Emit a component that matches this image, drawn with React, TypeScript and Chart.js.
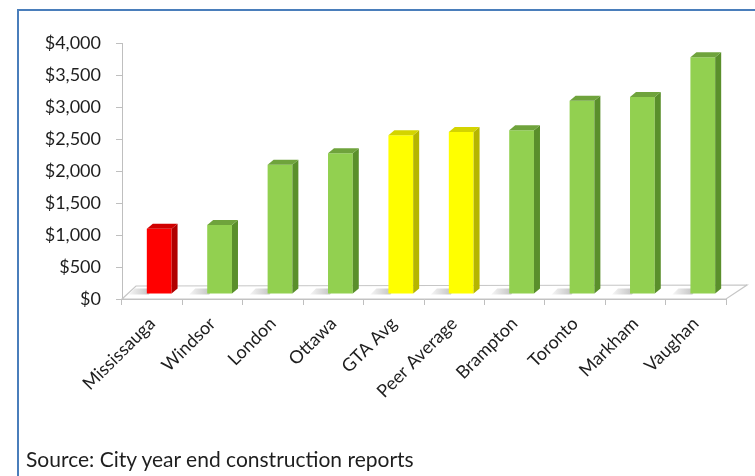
import React, { useEffect, useRef } from "react";
import { Chart, registerables } from "chart.js";

Chart.register(...registerables);

const categories = [
  "Mississauga",
  "Windsor",
  "London",
  "Ottawa",
  "GTA Avg",
  "Peer Average",
  "Brampton",
  "Toronto",
  "Markham",
  "Vaughan",
];
const costValues = [1020, 1080, 2020, 2200, 2480, 2530, 2560, 3020, 3080, 3700];
const barKinds = ["red", "green", "green", "green", "yellow", "yellow", "green", "green", "green", "green"];
const yMin = 0;
const yMax = 4000;
const yStep = 500;
const sourceNote = "Source: City year end construction reports";

const FRONT: Record<string, string> = { red: "#ff0000", green: "#92d050", yellow: "#ffff00" };
const SIDE: Record<string, string> = { red: "#b00000", green: "#5a8f2b", yellow: "#b5b500" };
const TOP: Record<string, string> = { red: "#d00000", green: "#6fa33c", yellow: "#d4d400" };

const FONT = "Lato, 'Open Sans', sans-serif";
const OFF_X = 7;
const OFF_Y = -5;
const DEPTH_X = 6;
const DEPTH_Y = 5;

const bar3d = {
  id: "bar3d",
  beforeDatasetsDraw(chart: any) {
    const { ctx, chartArea: a } = chart;
    const L = a.left, R = a.right, B = a.bottom;
    ctx.save();
    ctx.beginPath();
    ctx.moveTo(L, B);
    ctx.lineTo(R, B);
    ctx.lineTo(R + 21, B - 14);
    ctx.lineTo(L + 14, B - 13);
    ctx.closePath();
    ctx.fillStyle = "#ffffff";
    ctx.fill();
    ctx.strokeStyle = "#c6c6c6";
    ctx.lineWidth = 1.2;
    ctx.stroke();
    const meta = chart.getDatasetMeta(0);
    meta.data.forEach((el: any) => {
      const w = el.width;
      const x0 = el.x - w / 2 + OFF_X;
      const g = ctx.createLinearGradient(x0 - 22, 0, x0 + 2, 0);
      g.addColorStop(0, "rgba(150,150,150,0)");
      g.addColorStop(1, "rgba(150,150,150,0.55)");
      ctx.fillStyle = g;
      ctx.beginPath();
      ctx.moveTo(x0 - 18, el.base + OFF_Y + 1);
      ctx.lineTo(x0 + 2, el.base + OFF_Y + 1);
      ctx.lineTo(x0 + 6, el.base + OFF_Y - 5);
      ctx.lineTo(x0 - 12, el.base + OFF_Y - 5);
      ctx.closePath();
      ctx.fill();
    });
    ctx.restore();
    ctx.save();
    ctx.translate(OFF_X, OFF_Y);
  },
  afterDatasetsDraw(chart: any) {
    const { ctx } = chart;
    ctx.restore();
    const meta = chart.getDatasetMeta(0);
    ctx.save();
    ctx.translate(OFF_X, OFF_Y);
    meta.data.forEach((el: any, i: number) => {
      const kind = barKinds[i];
      const w = el.width;
      const x1 = el.x - w / 2;
      const x2 = el.x + w / 2;
      const yT = el.y;
      const yB = el.base;
      ctx.beginPath();
      ctx.moveTo(x2, yB);
      ctx.lineTo(x2, yT);
      ctx.lineTo(x2 + DEPTH_X, yT - DEPTH_Y);
      ctx.lineTo(x2 + DEPTH_X, yB - DEPTH_Y);
      ctx.closePath();
      ctx.fillStyle = SIDE[kind];
      ctx.fill();
      ctx.beginPath();
      ctx.moveTo(x1, yT);
      ctx.lineTo(x2, yT);
      ctx.lineTo(x2 + DEPTH_X, yT - DEPTH_Y);
      ctx.lineTo(x1 + DEPTH_X, yT - DEPTH_Y);
      ctx.closePath();
      ctx.fillStyle = TOP[kind];
      ctx.fill();
    });
    ctx.restore();
  },
};

export default function App() {
  const ref = useRef<HTMLCanvasElement | null>(null);
  useEffect(() => {
    if (!ref.current) return;
    const yTickValues: number[] = [];
    for (let v = yMin; v <= yMax; v += yStep) yTickValues.push(v);
    const chart = new Chart(ref.current, {
      type: "bar",
      data: {
        labels: categories,
        datasets: [
          {
            data: costValues,
            backgroundColor: barKinds.map((k) => FRONT[k]),
            borderWidth: 0,
            categoryPercentage: 1,
            barPercentage: 0.41,
          },
        ],
      },
      options: {
        animation: false,
        responsive: false,
        maintainAspectRatio: false,
        layout: { padding: { left: 0, right: 29, top: 43, bottom: 0 } },
        plugins: { legend: { display: false }, tooltip: { enabled: false }, title: { display: false } },
        scales: {
          x: {
            offset: true,
            grid: { offset: true, drawOnChartArea: false, drawTicks: true, tickLength: 6, color: "#bfbfbf" },
            border: { display: true, color: "#bfbfbf", width: 1 },
            ticks: {
              minRotation: 45,
              maxRotation: 45,
              autoSkip: false,
              padding: 8,
              color: "#1e1e1e",
              font: { family: FONT, size: 18 },
            },
            afterFit: (s: any) => {
              s.height = 177;
            },
          },
          y: {
            min: yMin,
            max: yMax,
            afterBuildTicks: (s: any) => {
              s.ticks = yTickValues.map((v) => ({ value: v }));
            },
            grid: { drawOnChartArea: false, drawTicks: true, tickLength: 6, color: "#bfbfbf" },
            border: { display: true, color: "#bfbfbf", width: 1 },
            ticks: {
              padding: 15,
              color: "#1e1e1e",
              font: { family: FONT, size: 18 },
              callback: (v: any) => "$" + Number(v).toLocaleString("en-US"),
            },
            afterFit: (s: any) => {
              s.width = 122;
            },
          },
        },
      },
      plugins: [bar3d],
    });
    return () => chart.destroy();
  }, []);

  return (
    <div style={{ position: "absolute", left: 0, top: 0, width: 755, height: 476, background: "#fff", overflow: "hidden" }}>
      <div
        style={{
          position: "absolute",
          left: 17,
          top: 9,
          width: 760,
          height: 480,
          borderLeft: "2px solid #4a7ebb",
          borderTop: "2px solid #4a7ebb",
        }}
      />
      <canvas ref={ref} width={755} height={476} style={{ position: "absolute", left: 0, top: 0, width: 755, height: 476 }} />
      <div
        style={{
          position: "absolute",
          left: 26,
          top: 448,
          fontFamily: FONT,
          fontSize: 21,
          lineHeight: "22px",
          color: "#1e1e1e",
          whiteSpace: "nowrap",
        }}
      >
        {sourceNote}
      </div>
    </div>
  );
}
